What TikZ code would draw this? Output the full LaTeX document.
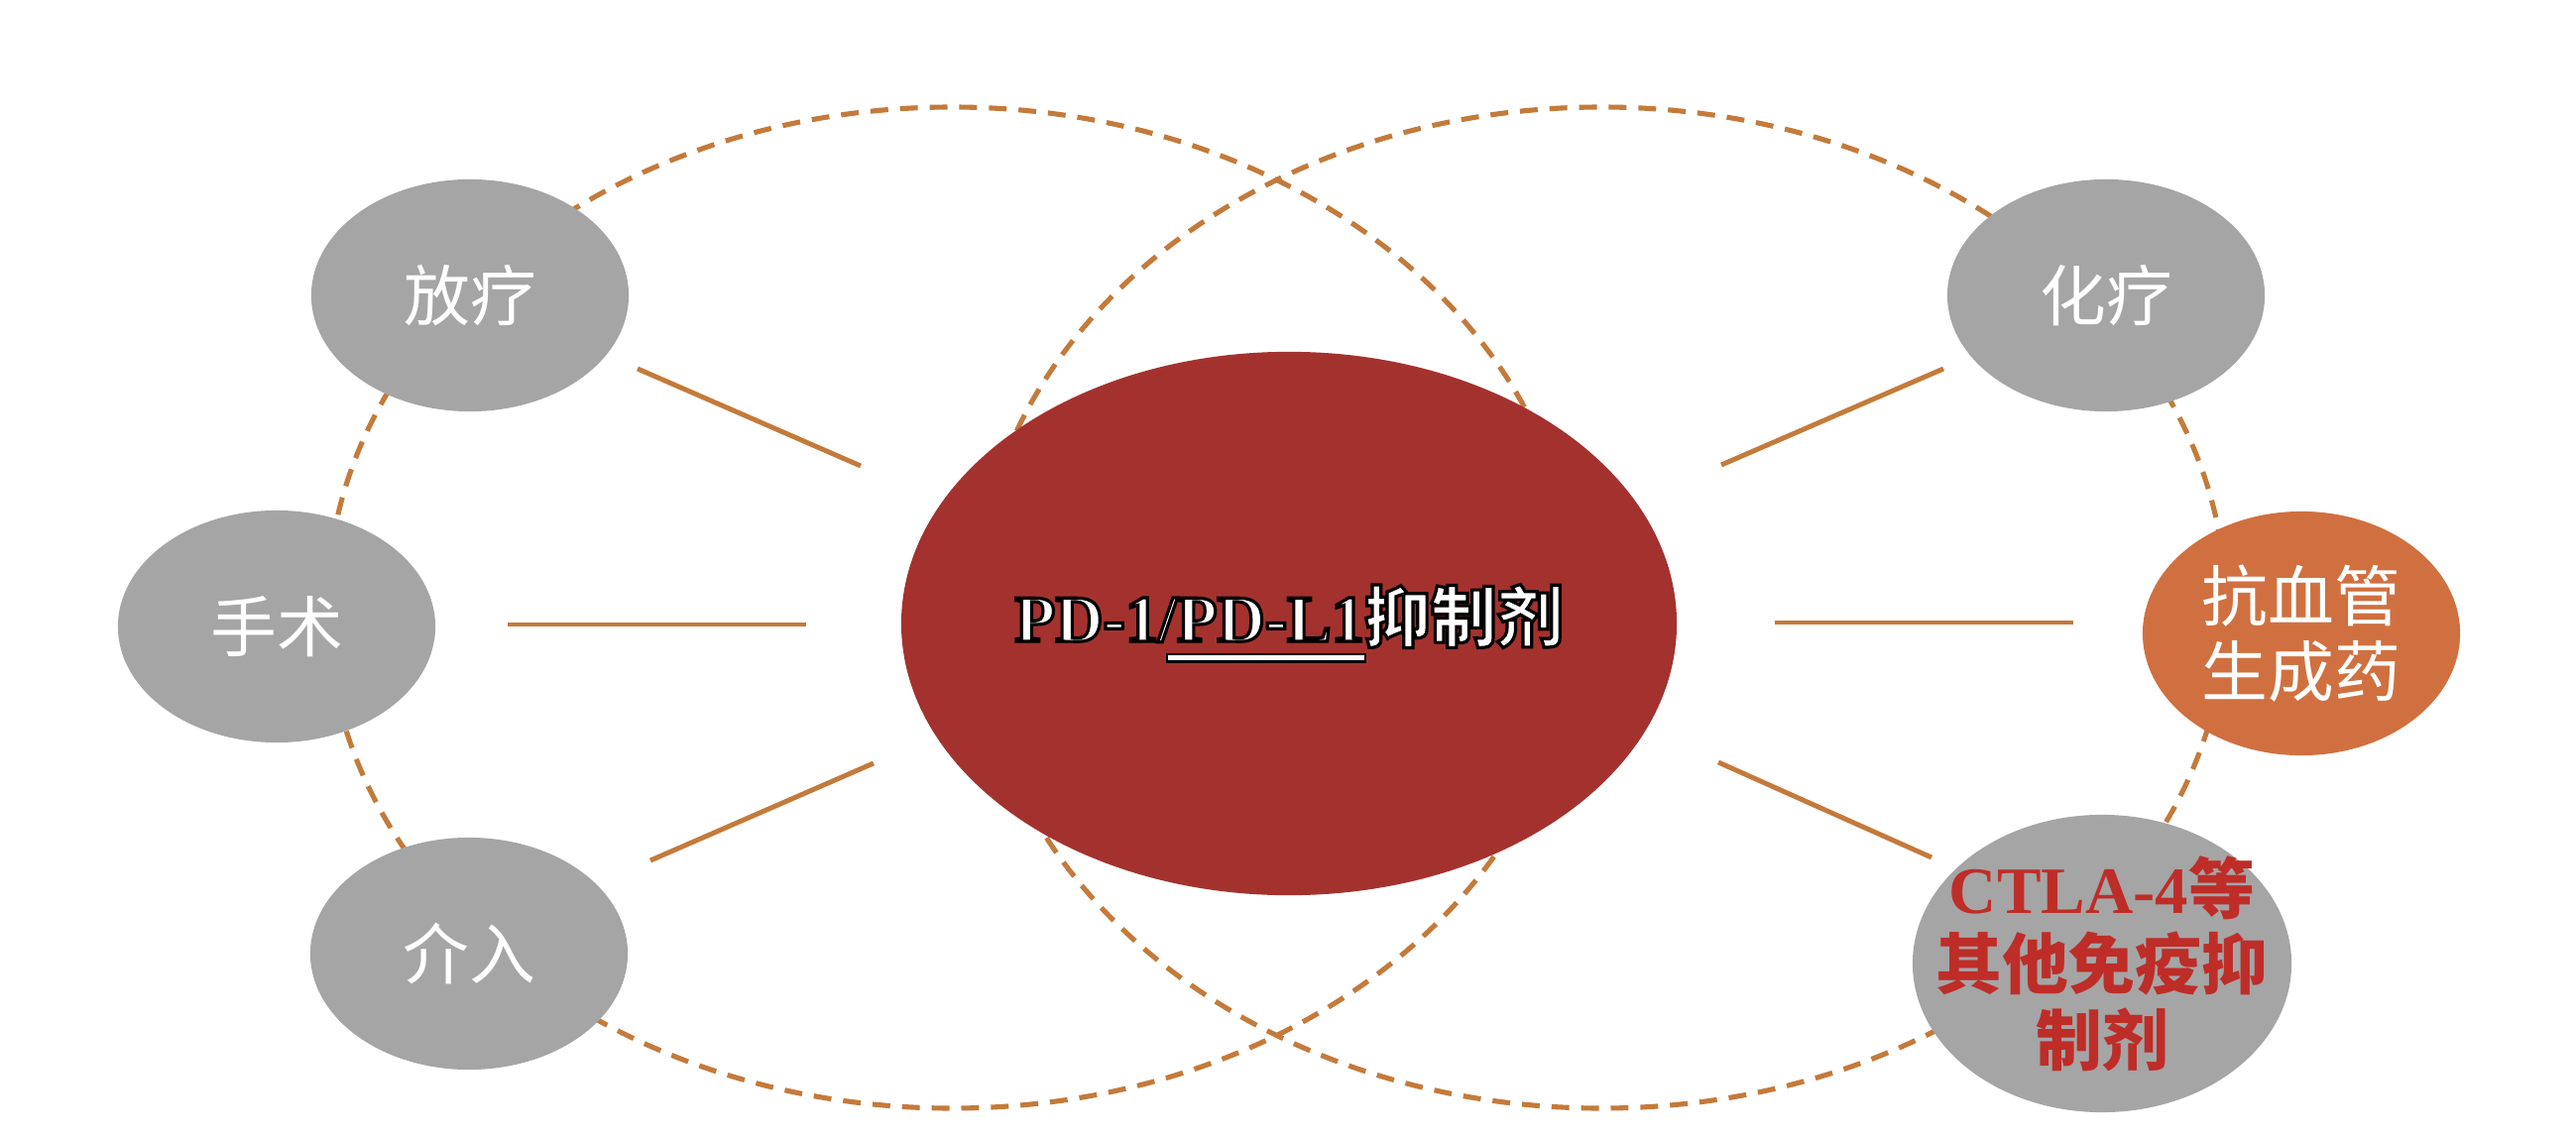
\documentclass[tikz,border=0pt]{standalone}
\usepackage{fontspec}
\setmainfont{Liberation Serif}
\newfontfamily\cjk{Noto Sans CJK SC}
\usetikzlibrary{shapes.geometric}
\definecolor{dashc}{RGB}{196,122,58}
\definecolor{nodegray}{RGB}{165,165,165}
\definecolor{pdred}{RGB}{163,50,46}
\definecolor{orangen}{RGB}{208,112,64}
\definecolor{ctlared}{RGB}{190,45,40}
\newcommand\olstart{\special{pdf:literal direct 0 0 0 RG 0.9 w 2 Tr}}
\newcommand\olend{\special{pdf:literal direct 0 Tr}}
\newcommand\ulbox[1]{\setbox0\hbox{#1}%
  \rlap{\kern-3pt\raisebox{-6.1pt}{\textcolor{black}{\rule{\dimexpr\wd0+3.6pt\relax}{2.6pt}}}}%
  \rlap{\kern-2.4pt\raisebox{-5.5pt}{\textcolor{white}{\rule{\dimexpr\wd0+2.4pt\relax}{1.4pt}}}}%
  \olstart\box0}
\begin{document}
\begin{tikzpicture}[x=0.01cm,y=-0.01cm,
  dashring/.style={draw=dashc, line width=1.45pt, dash pattern=on 5.1pt off 3.4pt},
  conn/.style={draw=dashc, line width=1.4pt},
  blob/.style={ellipse, inner sep=0pt, align=center, font=\cjk\fontsize{19}{21.5}\selectfont},
  graynode/.style={blob, fill=nodegray, text=white, minimum width=3.2cm, minimum height=2.34cm},
  orangenode/.style={blob, fill=orangen, text=white, minimum width=3.2cm, minimum height=2.46cm},
  ctlanode/.style={ellipse, inner sep=0pt, fill=nodegray, minimum width=3.82cm, minimum height=3.0cm},
  ctlatext/.style={align=center, text=ctlared, font=\cjk\bfseries\fontsize{19}{21.8}\selectfont},
  pdnode/.style={ellipse, inner sep=0pt, fill=pdred, text=white, minimum width=7.74cm, minimum height=5.48cm, font=\fontsize{19}{22}\selectfont\bfseries}
]
\useasboundingbox (0,0) rectangle (2598,1146);
% dashed rings
\draw[dashring] (960,613) ellipse [x radius=630, y radius=505];
\draw[dashring] (1615,613) ellipse [x radius=630, y radius=505];
% connector end points
\coordinate (a1) at (643,372); \coordinate (b1) at (868,470);
\coordinate (a2) at (512,630); \coordinate (b2) at (813,630);
\coordinate (a3) at (656,868); \coordinate (b3) at (881,770);
\coordinate (a4) at (1960,372); \coordinate (b4) at (1736,469);
\coordinate (a5) at (2091,628); \coordinate (b5) at (1790,628);
\coordinate (a6) at (1948,865); \coordinate (b6) at (1733,769);
\draw[conn] (a1) -- (b1);
\draw[conn] (a2) -- (b2);
\draw[conn] (a3) -- (b3);
\draw[conn] (a4) -- (b4);
\draw[conn] (a5) -- (b5);
\draw[conn] (a6) -- (b6);
% nodes
\node[pdnode] (pd) at (1300,629) {\olstart PD-1/\ulbox{PD-L1}{\cjk 抑制剂}\olend};
\node[graynode] (fl) at (474,298) {放疗};
\node[graynode] (ss) at (279,632) {手术};
\node[graynode] (jr) at (473,962) {介入};
\node[graynode] (hl) at (2124,298) {化疗};
\node[orangenode] (kx) at (2321,639) {抗血管\\生成药};
\node[ctlanode, label={[ctlatext]center:{\rmfamily CTLA-4}等\\其他免疫抑\\制剂}] (ct) at (2120,972) {};
\end{tikzpicture}
\end{document}
